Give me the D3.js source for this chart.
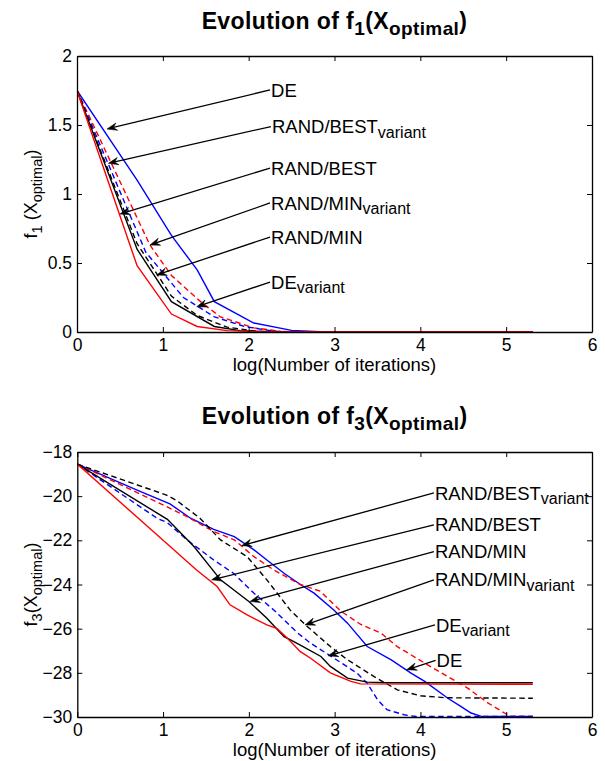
<!DOCTYPE html>
<html><head><meta charset="utf-8">
<script src="https://cdn.jsdelivr.net/npm/d3@7"></script>
<style>
body{margin:0;background:#fff}
svg{display:block}
text{font-family:Arial,"Liberation Sans",Helvetica,sans-serif;fill:#000}
</style>
</head><body>
<svg id="c" width="605" height="761"></svg>
<script>
// ---------- data ----------
const xTicks = [0, 1, 2, 3, 4, 5, 6];
const f1YTicks = [0, 0.5, 1, 1.5, 2];
const f3YTicks = [-30, -28, -26, -24, -22, -20, -18];

// f1 (top) series: [log(iterations), value]
const f1_DE = [[0,1.75],[0.7,1.10],[1.1,0.70],[1.4,0.45],[1.6,0.22],[2.06,0.065],[2.5,0.012],[2.9,0],[5.31,0]];
const f1_DEvar = [[0,1.75],[0.8,0.58],[1.24,0.25],[1.6,0.11],[1.95,0.04],[2.3,0.005],[2.7,0],[5.31,0]];
const f1_RB = [[0,1.75],[0.7,0.48],[1.1,0.13],[1.4,0.04],[1.75,0.01],[2.2,0],[5.31,0]];
const f1_RBvar = [[0,1.75],[0.85,0.63],[1.1,0.41],[1.44,0.22],[1.67,0.11],[2.06,0.03],[2.4,0.003],[2.8,0],[5.31,0]];
const f1_RM = [[0,1.75],[0.7,0.60],[1.1,0.22],[1.6,0.04],[1.9,0.01],[2.3,0],[5.31,0]];
const f1_RMvar = [[0,1.75],[0.7,0.64],[1.1,0.26],[1.4,0.12],[1.75,0.035],[2.1,0.005],[2.5,0],[5.31,0]];

// f3 (bottom) series
const f3_DE = [[0,-18.55],[0.69,-19.72],[1.08,-20.35],[1.32,-21.0],[1.59,-21.5],[1.83,-21.83],[2.06,-22.43],[2.21,-22.89],[2.41,-23.49],[2.6,-24.0],[2.76,-24.39],[2.99,-25.15],[3.15,-25.75],[3.38,-26.81],[3.66,-27.41],[3.89,-28.01],[4.05,-28.39],[4.32,-29.15],[4.47,-29.52],[4.59,-29.82],[4.71,-29.97],[5.31,-29.97]];
const f3_DEvar = [[0,-18.55],[0.93,-21.0],[1.05,-21.2],[1.28,-21.98],[1.59,-22.89],[1.82,-23.49],[2.06,-24.4],[2.29,-25.15],[2.57,-26.2],[2.72,-26.66],[2.99,-27.33],[3.26,-28.01],[3.38,-28.47],[3.5,-29.22],[3.61,-29.67],[3.81,-29.9],[3.95,-29.98],[5.31,-29.98]];
const f3_RB = [[0,-18.55],[1.04,-22.13],[1.39,-23.34],[1.63,-24.09],[1.78,-24.92],[1.98,-25.38],[2.21,-25.83],[2.33,-26.0],[2.45,-26.43],[2.6,-27.04],[2.72,-27.34],[2.95,-28.0],[3.19,-28.39],[3.3,-28.5],[5.31,-28.52]];
const f3_RBvar = [[0,-18.55],[1.04,-20.47],[1.28,-20.93],[1.59,-21.6],[1.83,-21.98],[2.06,-22.74],[2.29,-23.34],[2.6,-24.0],[2.83,-24.3],[3.07,-25.2],[3.3,-25.8],[3.54,-26.2],[3.73,-26.81],[4.05,-27.56],[4.32,-28.17],[4.55,-28.69],[4.79,-29.37],[4.98,-29.82],[5.05,-29.98],[5.31,-29.98]];
const f3_RM = [[0,-18.55],[1.05,-21.05],[1.36,-22.28],[1.67,-23.79],[2.0,-24.77],[2.21,-25.53],[2.41,-26.36],[2.48,-26.5],[2.6,-26.75],[2.84,-27.26],[2.95,-27.71],[3.15,-28.24],[3.38,-28.42],[3.6,-28.45],[5.31,-28.45]];
const f3_RMvar = [[0,-18.55],[1.04,-19.95],[1.16,-20.2],[1.43,-21.0],[1.67,-21.98],[1.98,-22.74],[2.21,-23.79],[2.48,-25.15],[2.66,-25.83],[2.95,-26.81],[3.15,-27.41],[3.46,-28.17],[3.73,-28.77],[4.0,-29.04],[4.3,-29.13],[5.31,-29.15]];

// annotations: label, subscript, tail [x,y], head [x,y] in data units
const f1Labels = ["DE","RAND/BEST","RAND/BEST","RAND/MIN","RAND/MIN","DE"];
const f1Subs = ["","variant","","variant","","variant"];
const f1Tails = [[2.249,1.754],[2.260,1.489],[2.249,1.188],[2.249,0.935],[2.249,0.688],[2.249,0.362]];
const f1Heads = [[0.350,1.471],[0.365,1.222],[0.501,0.855],[0.850,0.630],[0.929,0.413],[1.395,0.183]];

const f3Labels = ["RAND/BEST","RAND/BEST","RAND/MIN","RAND/MIN","DE","DE"];
const f3Subs = ["variant","","","variant","variant",""];
const f3Tails = [[4.157,-19.855],[4.157,-21.30],[4.157,-22.51],[4.157,-23.79],[4.169,-25.83],[4.177,-27.44]];
const f3Heads = [[1.916,-22.24],[1.566,-23.79],[2.013,-24.77],[2.654,-25.83],[2.925,-27.23],[3.839,-27.86]];

// ---------- drawing ----------
const svg = d3.select("#c");
svg.append("rect").attr("width",605).attr("height",761).attr("fill","#fff");

function panel(cfg){
  const g = svg.append("g");
  const x = d3.scaleLinear().domain([0,6]).range([cfg.left, cfg.right]);
  const y = d3.scaleLinear().domain(cfg.ydom).range([cfg.bottom, cfg.top]);
  const line = d3.line().x(d=>x(d[0])).y(d=>y(d[1]));

  const clipId = "clip"+cfg.id;
  svg.append("clipPath").attr("id",clipId).append("rect")
    .attr("x",cfg.left).attr("y",cfg.top-1).attr("width",cfg.right-cfg.left).attr("height",cfg.bottom-cfg.top+2);

  const lines = g.append("g").attr("clip-path","url(#"+clipId+")");
  cfg.series.forEach(s=>{
    lines.append("path").attr("d",line(s.data)).attr("fill","none")
      .attr("stroke",s.color).attr("stroke-width",1.4)
      .attr("stroke-dasharray",s.dash?"5.5,3.5":null);
  });

  const axB = g.append("g").attr("transform","translate(0,"+cfg.bottom+")")
    .call(d3.axisBottom(x).tickValues(xTicks).tickSizeInner(-5).tickSizeOuter(0).tickFormat(d3.format("d")));
  const axT = g.append("g").attr("transform","translate(0,"+cfg.top+")")
    .call(d3.axisTop(x).tickValues(xTicks).tickSizeInner(-5).tickSizeOuter(0).tickFormat(""));
  const axL = g.append("g").attr("transform","translate("+cfg.left+",0)")
    .call(d3.axisLeft(y).tickValues(cfg.yTicks).tickSizeInner(-5).tickSizeOuter(0).tickFormat(cfg.fmt));
  const axR = g.append("g").attr("transform","translate("+cfg.right+",0)")
    .call(d3.axisRight(y).tickValues(cfg.yTicks).tickSizeInner(-5).tickSizeOuter(0).tickFormat(""));
  [axB,axT,axL,axR].forEach(a=>{
    a.selectAll("path.domain").attr("stroke","#000").attr("stroke-width",1.3);
    a.selectAll(".tick line").attr("stroke","#000").attr("stroke-width",1);
    a.selectAll("text").style("font-family","Arial, 'Liberation Sans', sans-serif").style("font-size","17.5px").attr("fill","#000");
  });
  axB.selectAll(".tick text").attr("dy",null).attr("y",19);
  axL.selectAll(".tick text").attr("x",-5);

  // title
  const t = g.append("text").attr("x",(cfg.left+cfg.right)/2).attr("y",cfg.titleY)
    .attr("text-anchor","middle").style("font-weight","bold").style("font-size","23px")
    .style("letter-spacing","0.4px");
  t.append("tspan").text("Evolution of f");
  t.append("tspan").attr("dy",6).style("font-size","19px").text(cfg.fnum);
  t.append("tspan").attr("dy",-6).text("(X");
  t.append("tspan").attr("dy",6).style("font-size","19px").text("optimal");
  t.append("tspan").attr("dy",-6).text(")");

  // x label
  g.append("text").attr("x",(cfg.left+cfg.right)/2).attr("y",cfg.bottom+39)
    .attr("text-anchor","middle").style("font-size","18.5px").text("log(Number of iterations)");

  // y label
  const yl = g.append("text").attr("transform","translate(37,"+((cfg.top+cfg.bottom)/2)+") rotate(-90)")
    .attr("text-anchor","middle").style("font-size","18px");
  yl.append("tspan").text("f");
  yl.append("tspan").attr("dy",5).style("font-size","14.5px").text(cfg.fnum);
  yl.append("tspan").attr("dy",-5).text(cfg.ylabGap+"(X");
  yl.append("tspan").attr("dy",5).style("font-size","14.5px").text("optimal");
  yl.append("tspan").attr("dy",-5).text(")");

  // annotations
  cfg.labels.forEach((lab,i)=>{
    const tx = x(cfg.tails[i][0]), ty = y(cfg.tails[i][1]);
    const hx = x(cfg.heads[i][0]), hy = y(cfg.heads[i][1]);
    const ang = Math.atan2(hy-ty, hx-tx);
    const L = 10, W = 7.5, N = 6.5;
    const ex = hx - Math.cos(ang)*N, ey = hy - Math.sin(ang)*N;
    g.append("line").attr("x1",tx).attr("y1",ty).attr("x2",ex).attr("y2",ey)
      .attr("stroke","#000").attr("stroke-width",1.3);
    const deg = ang*180/Math.PI;
    g.append("path").attr("transform","translate("+hx+","+hy+") rotate("+deg+")")
      .attr("d","M0,0 L"+(-L)+","+(W/2)+" L"+(-N)+",0 L"+(-L)+","+(-W/2)+" Z")
      .attr("fill","#000").attr("stroke","#000").attr("stroke-width",0.5);
    const txt = g.append("text").attr("x",tx+1).attr("y",ty+6.6).style("font-size","18.5px");
    txt.append("tspan").text(lab);
    if(cfg.subs[i]) txt.append("tspan").attr("dy",4.5).style("font-size","16px").text(cfg.subs[i]);
  });
}

panel({id:"1", left:77, right:592, top:56, bottom:332, ydom:[0,2], yTicks:f1YTicks,
  fmt:d3.format(""), titleY:29, fnum:"1", ylabGap:" ",
  series:[
    {data:f1_DE,color:"#0000ff",dash:false},
    {data:f1_RBvar,color:"#ff0000",dash:true},
    {data:f1_DEvar,color:"#0000ff",dash:true},
    {data:f1_RMvar,color:"#000000",dash:true},
    {data:f1_RM,color:"#000000",dash:false},
    {data:f1_RB,color:"#ff0000",dash:false}
  ],
  labels:f1Labels, subs:f1Subs, tails:f1Tails, heads:f1Heads});

panel({id:"3", left:77.3, right:592, top:452, bottom:717, ydom:[-30,-18], yTicks:f3YTicks,
  fmt:d=>String(d).replace("-","\u2212"), titleY:424, fnum:"3", ylabGap:"",
  series:[
    {data:f3_DE,color:"#0000ff",dash:false},
    {data:f3_RBvar,color:"#ff0000",dash:true},
    {data:f3_DEvar,color:"#0000ff",dash:true},
    {data:f3_RMvar,color:"#000000",dash:true},
    {data:f3_RM,color:"#000000",dash:false},
    {data:f3_RB,color:"#ff0000",dash:false}
  ],
  labels:f3Labels, subs:f3Subs, tails:f3Tails, heads:f3Heads});
</script>
</body></html>
